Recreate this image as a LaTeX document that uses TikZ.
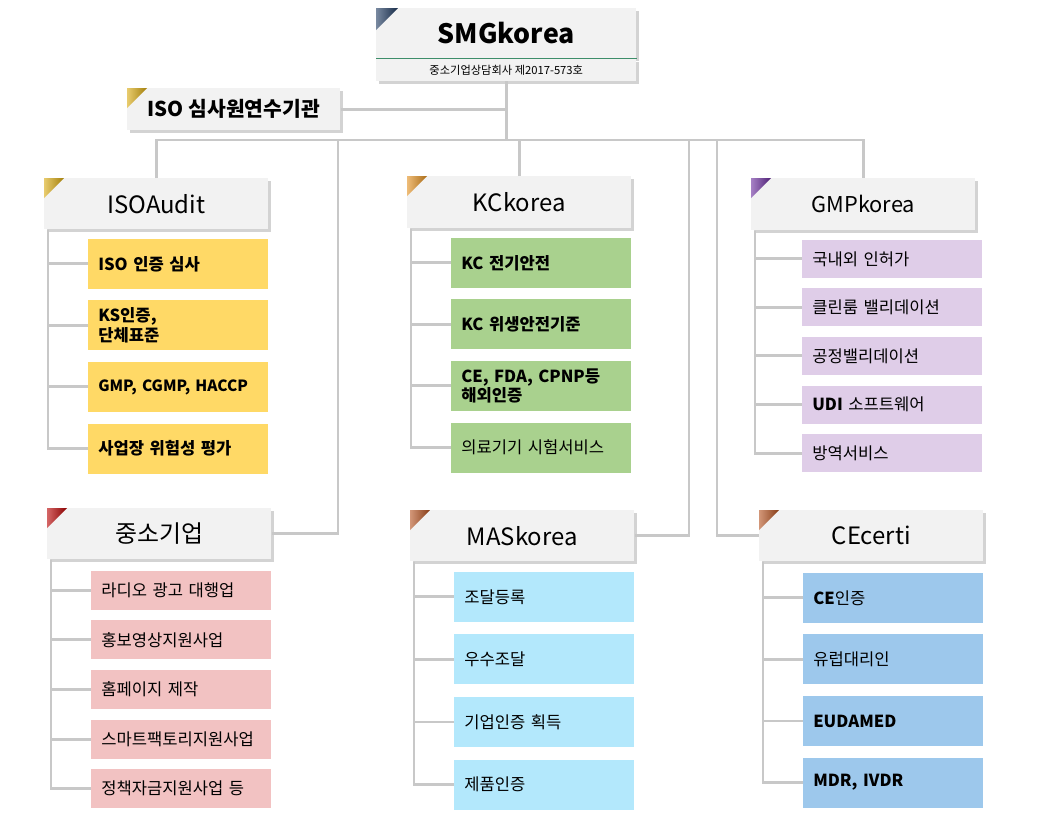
\documentclass[tikz,border=0pt]{standalone}
\usepackage{fontspec}
\setmainfont{Noto Sans CJK KR}
\usepackage{tikz}
\usetikzlibrary{positioning, shadows, calc}
\definecolor{boxgray}{HTML}{F2F2F2}
\definecolor{linkgray}{HTML}{C8C8C8}
\definecolor{smggreen}{HTML}{3E8E6A}
\definecolor{isoyellow}{HTML}{FFD966}
\definecolor{kcgreen}{HTML}{A9D18E}
\definecolor{gmpviolet}{HTML}{DFCDE8}
\definecolor{smbpink}{HTML}{F2C2C2}
\definecolor{mascyan}{HTML}{B3E8FC}
\definecolor{ceblue}{HTML}{9DC8EC}
\definecolor{tabgold}{HTML}{D9A90E}
\definecolor{taborange}{HTML}{E3901E}
\definecolor{tabpurple}{HTML}{6A2C9E}
\definecolor{tabred}{HTML}{B80000}
\definecolor{tabbrown}{HTML}{B4501E}
\definecolor{tabnavy}{HTML}{1F3A60}
\tikzstyle{group} = [rectangle, fill=boxgray, minimum width=5.6cm, minimum height=1.275cm, text centered, anchor=north west, font=\fontsize{17}{20}\selectfont, drop shadow={shadow xshift=0.07cm, shadow yshift=-0.07cm, opacity=0.35}]
\tikzstyle{item} = [rectangle, minimum width=4.5cm, text width=4.0cm, inner xsep=0.25cm, align=left, minimum height=1.25cm, font=\fontsize{11.8}{14}\selectfont]
\tikzstyle{bolditem} = [item, font=\fontsize{11.8}{14}\selectfont\bfseries]
\tikzstyle{link} = [draw=linkgray, line width=2.1pt]
\newcommand{\cornertab}[3][0.5]{\shade[left color=#3!60!white, right color=#3!75!black] (#2.north west) -- ++(#1,0) -- ++(-#1,-#1) -- cycle;}

\begin{document}
\begin{tikzpicture}
    \useasboundingbox (0,0) rectangle (25.925,-20.375);

    % Hauptbox
    \node (smg) [group, minimum width=6.5cm, minimum height=1.25cm, font=\fontsize{19}{22}\selectfont\bfseries] at (9.4,-0.2) {SMGkorea};
    \node (smgsub) [group, below=0pt of smg, minimum width=6.5cm, minimum height=0.55cm, font=\fontsize{8}{9}\selectfont] {중소기업상담회사 제2017-573호};
    \draw [smggreen, line width=0.8pt] (smg.south west) -- (smg.south east);
    \cornertab[0.55]{smg}{tabnavy}

    \node (isotrain) [group, minimum width=5.325cm, minimum height=1.05cm, font=\fontsize{14.5}{16}\selectfont\bfseries] at (3.175,-2.2) {ISO 심사원연수기관};
    \cornertab{isotrain}{tabgold}

    % Gruppen
    \node (isoaudit) [group] at (1.1,-4.45) {ISOAudit};
    \node (kckorea) [group, minimum height=1.3cm] at (10.175,-4.4) {KCkorea};
    \node (gmpkorea) [group, minimum height=1.3cm, font=\fontsize{15.5}{18}\selectfont] at (18.775,-4.45) {GMPkorea};
    \node (smb) [group] at (1.175,-12.7) {중소기업};
    \node (maskorea) [group] at (10.25,-12.75) {MASkorea};
    \node (cecerti) [group] at (18.975,-12.75) {CEcerti};
    \cornertab{isoaudit}{tabgold}
    \cornertab{kckorea}{taborange}
    \cornertab{gmpkorea}{tabpurple}
    \cornertab{smb}{tabred}
    \cornertab{maskorea}{tabbrown}
    \cornertab{cecerti}{tabbrown}

    % ISOAudit
    \node (iso1) [bolditem, fill=isoyellow, below=0.225cm of isoaudit.south east, anchor=north east] {ISO 인증 심사};
    \node (iso2) [bolditem, fill=isoyellow, below=0.275cm of iso1] {KS인증,\\단체표준};
    \node (iso3) [bolditem, fill=isoyellow, font=\fontsize{11}{14}\selectfont\bfseries, below=0.275cm of iso2] {GMP, CGMP, HACCP};
    \node (iso4) [bolditem, fill=isoyellow, below=0.275cm of iso3] {사업장 위험성 평가};

    % KCkorea
    \node (kc1) [bolditem, fill=kcgreen, below=0.225cm of kckorea.south east, anchor=north east] {KC 전기안전};
    \node (kc2) [bolditem, fill=kcgreen, below=0.275cm of kc1] {KC 위생안전기준};
    \node (kc3) [bolditem, fill=kcgreen, below=0.275cm of kc2] {CE, FDA, CPNP등\\해외인증};
    \node (kc4) [item, fill=kcgreen, below=0.275cm of kc3] {의료기기 시험서비스};

    % GMPkorea
    \node (gmp1) [item, fill=gmpviolet, minimum height=0.95cm, below=0.225cm of gmpkorea.south east, anchor=north east, xshift=0.175cm] {국내외 인허가};
    \node (gmp2) [item, fill=gmpviolet, minimum height=0.95cm, below=0.25cm of gmp1] {클린룸 밸리데이션};
    \node (gmp3) [item, fill=gmpviolet, minimum height=0.95cm, below=0.25cm of gmp2] {공정밸리데이션};
    \node (gmp4) [item, fill=gmpviolet, minimum height=0.95cm, below=0.25cm of gmp3] {\textbf{UDI} 소프트웨어};
    \node (gmp5) [item, fill=gmpviolet, minimum height=0.95cm, below=0.25cm of gmp4] {방역서비스};

    % 중소기업
    \node (smb1) [item, fill=smbpink, minimum height=0.975cm, below=0.275cm of smb.south east, anchor=north east] {라디오 광고 대행업};
    \node (smb2) [item, fill=smbpink, minimum height=0.975cm, below=0.25cm of smb1] {홍보영상지원사업};
    \node (smb3) [item, fill=smbpink, minimum height=0.975cm, below=0.25cm of smb2] {홈페이지 제작};
    \node (smb4) [item, fill=smbpink, minimum height=0.975cm, below=0.25cm of smb3] {스마트팩토리지원사업};
    \node (smb5) [item, fill=smbpink, minimum height=0.975cm, below=0.25cm of smb4] {정책자금지원사업 등};

    % MASkorea
    \node (mas1) [item, fill=mascyan, below=0.25cm of maskorea.south east, anchor=north east] {조달등록};
    \node (mas2) [item, fill=mascyan, below=0.3cm of mas1] {우수조달};
    \node (mas3) [item, fill=mascyan, below=0.3cm of mas2] {기업인증 획득};
    \node (mas4) [item, fill=mascyan, below=0.3cm of mas3] {제품인증};

    % CEcerti
    \node (ce1) [item, fill=ceblue, below=0.275cm of cecerti.south east, anchor=north east] {\textbf{CE}인증};
    \node (ce2) [item, fill=ceblue, below=0.275cm of ce1] {유럽대리인};
    \node (ce3) [bolditem, fill=ceblue, below=0.275cm of ce2] {EUDAMED};
    \node (ce4) [bolditem, fill=ceblue, below=0.275cm of ce3] {MDR, IVDR};

    % Verbindungen oben
    \coordinate (busy) at (0,-3.5);
    \coordinate (busL) at (isoaudit.north |- busy);
    \coordinate (busR) at (gmpkorea.north |- busy);
    \draw [link] (smgsub.south) -- (smgsub.south |- busy);
    \draw [link] (isotrain.east) -- (isotrain.east -| smgsub.south);
    \draw [link] (isoaudit.north) -- (busL) -- (busR) -- (gmpkorea.north);
    \draw [link] (kckorea.north) -- (kckorea.north |- busy);
    \coordinate (smbdrop) at (8.45,-3.5);
    \coordinate (masdrop) at (17.225,-3.5);
    \coordinate (cedrop) at (17.925,-3.5);
    \draw [link] (smbdrop) |- (smb.east);
    \draw [link] (masdrop) |- (maskorea.east);
    \draw [link] (cedrop) |- (cecerti.west);

    % Verbindungen zu den Punkten
    \foreach \g/\n/\k in {isoaudit/iso/4, kckorea/kc/4, gmpkorea/gmp/5, smb/smb/5, maskorea/mas/4, cecerti/ce/4} {
        \coordinate (\g spine) at ($(\g.south west)+(0.1,0)$);
        \foreach \i in {1,...,\k}
            \draw [link] (\g spine) |- (\n\i.west);
    }
\end{tikzpicture}
\end{document}
